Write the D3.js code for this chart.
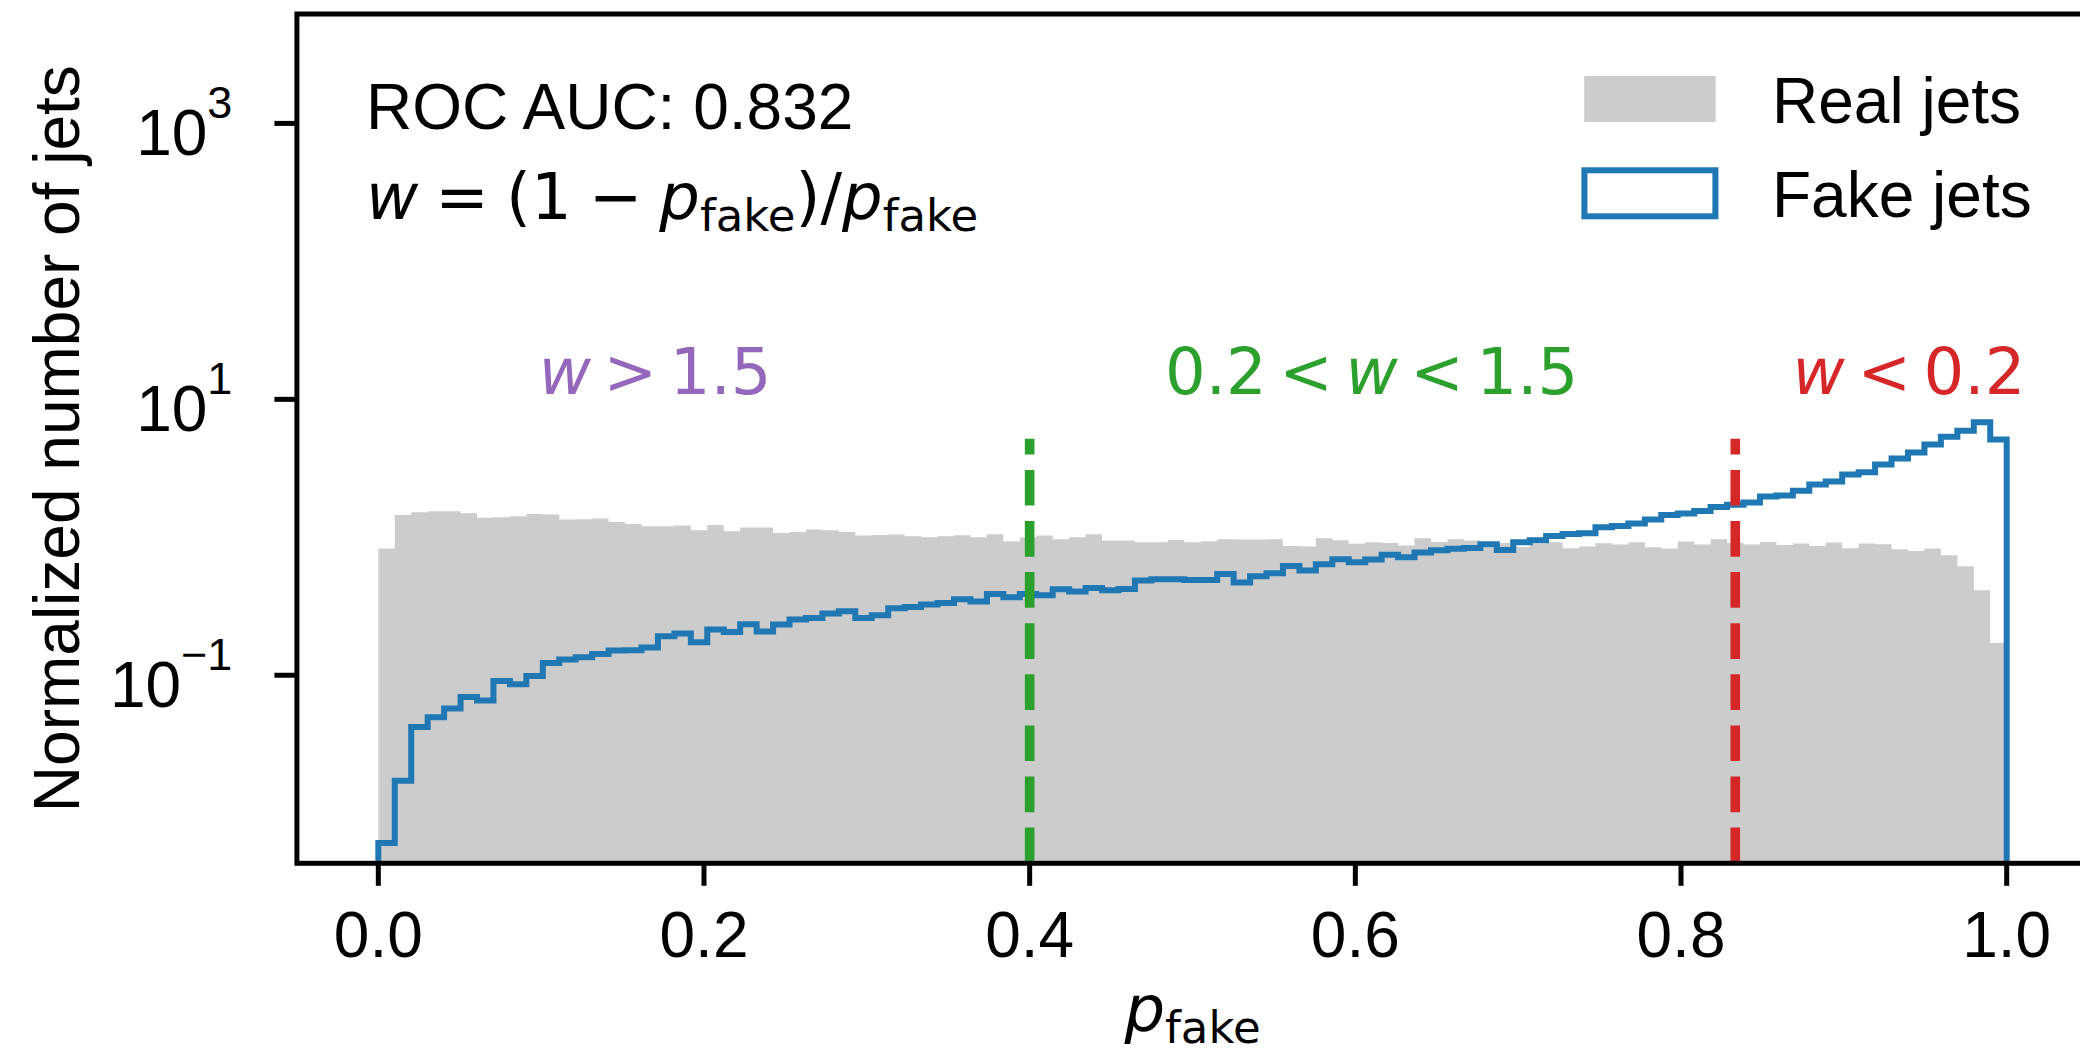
<!DOCTYPE html>
<html>
<head>
<meta charset="utf-8">
<script src="https://cdn.jsdelivr.net/npm/d3@7"></script>
<style>
  html, body { margin: 0; padding: 0; background: #ffffff; }
  svg { display: block; }
</style>
</head>
<body>
<svg id="chart" width="2080" height="1057"></svg>
<script>
// Normalized classifier-output histograms: 99 equal-width bins over p_fake in [0, 1]
const binCount = 99;

const realJets = [
  0.829, 1.453, 1.521, 1.546, 1.546, 1.496, 1.383, 1.399, 1.422, 1.478,
  1.464, 1.346, 1.353, 1.369, 1.293, 1.251, 1.204, 1.204, 1.218, 1.126,
  1.230, 1.107, 1.178, 1.178, 1.076, 1.094, 1.139, 1.126, 1.094, 1.031,
  1.041, 1.048, 1.019, 1.002, 1.019, 1.036, 1.002, 1.053, 0.937, 0.997,
  1.031, 0.969, 1.002, 1.053, 0.948, 0.948, 0.922, 0.922, 0.957, 0.922,
  0.937, 0.969, 0.964, 0.964, 0.969, 0.866, 0.858, 0.985, 0.953, 0.896,
  0.922, 0.911, 0.872, 0.985, 0.926, 0.969, 0.948, 0.848, 0.911, 0.852,
  0.902, 0.922, 0.834, 0.858, 0.906, 0.887, 0.922, 0.848, 0.829, 0.932,
  0.887, 0.969, 0.911, 0.887, 0.926, 0.881, 0.902, 0.866, 0.917, 0.834,
  0.902, 0.891, 0.820, 0.797, 0.829, 0.742, 0.617, 0.414, 0.171
];

const fakeJets = [
  0.00608, 0.0172, 0.0422, 0.0496, 0.0573, 0.0696, 0.0655, 0.0909, 0.0860, 0.0988,
  0.1228, 0.1300, 0.1351, 0.1427, 0.1511, 0.1518, 0.1588, 0.1918, 0.2006, 0.1735,
  0.2145, 0.2061, 0.2343, 0.2075, 0.2332, 0.2535, 0.2604, 0.2802, 0.2912, 0.2604,
  0.2724, 0.3061, 0.3128, 0.3256, 0.3345, 0.3557, 0.3423, 0.3886, 0.3677, 0.3886,
  0.3802, 0.4204, 0.4046, 0.4297, 0.4135, 0.4226, 0.4861, 0.4968, 0.4968, 0.4910,
  0.4910, 0.5428, 0.4701, 0.5224, 0.5492, 0.6203, 0.5744, 0.6381, 0.6939, 0.6600,
  0.6904, 0.7457, 0.7176, 0.7762, 0.8066, 0.8243, 0.8381, 0.8913, 0.8105, 0.9216,
  0.9528, 1.0237, 1.0585, 1.0708, 1.1837, 1.2098, 1.2592, 1.3459, 1.4534, 1.4878,
  1.5540, 1.6614, 1.7179, 1.7881, 1.9766, 2.0097, 2.1706, 2.4155, 2.5393, 2.8543,
  2.9661, 3.3723, 3.7276, 4.1201, 4.7098, 5.3469, 5.9100, 6.8329, 5.1193
];

const xTicks = [0.0, 0.2, 0.4, 0.6, 0.8, 1.0];
const xTickLabels = ["0.0", "0.2", "0.4", "0.6", "0.8", "1.0"];
const yTicks = [0.1, 10, 1000];
const yTickExponents = ["\u22121", "1", "3"];

// Weight cuts: w = 1.5 -> p_fake = 0.4, w = 0.2 -> p_fake = 1/1.2
const cutPositions = [0.4, 1 / 1.2];
const cutColors = ["#2ca02c", "#d62728"];

const legendLabels = ["Real jets", "Fake jets"];

// ---------------------------------------------------------------------------
const C = {
  grey: "#cccccc",
  blue: "#1f77b4",
  purple: "#9467bd",
  green: "#2ca02c",
  red: "#d62728"
};
const SANS = "'Liberation Sans', Arial, Helvetica, sans-serif";
const MATH = "'DejaVu Sans', sans-serif";
const FS = 64;          // 10 pt at the figure resolution
const SUB = 45;         // script size
const SPINE_W = 5;
const TICK_LEN = 22.5;

const frame = { left: 296.9, top: 14, right: 2088.1, bottom: 863.3 };

const svg = d3.select("#chart");

const x = d3.scaleLinear().domain([-0.05, 1.05]).range([frame.left, frame.right]);
const y = d3.scaleLog()
  .domain([Math.pow(10, -2.363), Math.pow(10, 3.793)])
  .range([frame.bottom, frame.top]);

const edges = d3.range(binCount + 1).map(i => i / binCount);

svg.append("defs").append("clipPath").attr("id", "plot-clip")
  .append("rect")
  .attr("x", frame.left).attr("y", frame.top)
  .attr("width", frame.right - frame.left)
  .attr("height", frame.bottom - frame.top);

const plot = svg.append("g").attr("clip-path", "url(#plot-clip)");

// step outline of a histogram, from the baseline up and back down
function stepPath(values, close) {
  const p = d3.path();
  p.moveTo(x(edges[0]), frame.bottom);
  values.forEach((v, i) => {
    p.lineTo(x(edges[i]), y(v));
    p.lineTo(x(edges[i + 1]), y(v));
  });
  p.lineTo(x(edges[binCount]), frame.bottom);
  if (close) p.closePath();
  return p.toString();
}

// Real jets: filled histogram
plot.append("path")
  .attr("d", stepPath(realJets, true))
  .attr("fill", C.grey)
  .attr("stroke", "none");

// Fake jets: step histogram
plot.append("path")
  .attr("d", stepPath(fakeJets, false))
  .attr("fill", "none")
  .attr("stroke", C.blue)
  .attr("stroke-width", 6)
  .attr("stroke-linejoin", "miter");

// Cut lines, from the axis floor up to half the axes height
const midY = frame.bottom - 0.5 * (frame.bottom - frame.top);
svg.append("g").selectAll("line")
  .data(cutPositions)
  .join("line")
  .attr("x1", d => x(d)).attr("x2", d => x(d))
  .attr("y1", frame.bottom).attr("y2", midY)
  .attr("stroke", (d, i) => cutColors[i])
  .attr("stroke-width", 9.6)
  .attr("stroke-dasharray", "35.7,15.4");

// Axes frame
svg.append("rect")
  .attr("x", frame.left).attr("y", frame.top)
  .attr("width", frame.right - frame.left)
  .attr("height", frame.bottom - frame.top)
  .attr("fill", "none")
  .attr("stroke", "#000")
  .attr("stroke-width", SPINE_W);

// x ticks
const gx = svg.append("g");
gx.selectAll("line")
  .data(xTicks)
  .join("line")
  .attr("x1", d => x(d)).attr("x2", d => x(d))
  .attr("y1", frame.bottom).attr("y2", frame.bottom + TICK_LEN)
  .attr("stroke", "#000").attr("stroke-width", SPINE_W);
gx.selectAll("text")
  .data(xTicks)
  .join("text")
  .attr("x", d => x(d))
  .attr("y", 957)
  .attr("text-anchor", "middle")
  .attr("font-family", SANS)
  .attr("font-size", FS)
  .text((d, i) => xTickLabels[i]);

// y ticks (log, labelled as powers of ten)
const gy = svg.append("g");
gy.selectAll("line")
  .data(yTicks)
  .join("line")
  .attr("x1", frame.left - TICK_LEN).attr("x2", frame.left)
  .attr("y1", d => y(d)).attr("y2", d => y(d))
  .attr("stroke", "#000").attr("stroke-width", SPINE_W);
yTicks.forEach((t, i) => {
  const txt = gy.append("text")
    .attr("x", frame.left - TICK_LEN - 42)
    .attr("y", y(t) + 32)
    .attr("text-anchor", "end")
    .attr("font-family", SANS)
    .attr("font-size", FS);
  txt.append("tspan").text("10");
  txt.append("tspan")
    .attr("dy", -37)
    .attr("font-size", SUB)
    .text(yTickExponents[i]);
});

// axis labels
const xl = svg.append("text")
  .attr("x", (frame.left + frame.right) / 2)
  .attr("y", 1031)
  .attr("text-anchor", "middle")
  .attr("font-family", MATH)
  .attr("font-size", FS);
xl.append("tspan").attr("font-style", "italic").text("p");
xl.append("tspan").attr("dy", 12).attr("font-size", SUB).text("fake");

svg.append("text")
  .attr("transform", `translate(79,${(frame.top + frame.bottom) / 2}) rotate(-90)`)
  .attr("text-anchor", "middle")
  .attr("font-family", SANS)
  .attr("font-size", FS)
  .text("Normalized number of jets");

// annotation block
svg.append("text")
  .attr("x", 366).attr("y", 128.5)
  .attr("font-family", SANS)
  .attr("font-size", FS)
  .text("ROC AUC: 0.832");

const f = svg.append("text")
  .attr("x", 366).attr("y", 218.5)
  .attr("font-family", MATH)
  .attr("font-size", FS);
const gap = 17;
f.append("tspan").attr("font-style", "italic").text("w");
f.append("tspan").attr("dx", gap).text("=");
f.append("tspan").attr("dx", gap).text("(1");
f.append("tspan").attr("dx", gap).text("\u2212");
f.append("tspan").attr("dx", gap).attr("font-style", "italic").text("p");
f.append("tspan").attr("dy", 12).attr("font-size", SUB).text("fake");
f.append("tspan").attr("dy", -12).text(")/");
f.append("tspan").attr("font-style", "italic").text("p");
f.append("tspan").attr("dy", 12).attr("font-size", SUB).text("fake");

// region labels, centred at fixed fractions of the axes width
const regions = [
  { frac: 0.2, color: C.purple, parts: [["w", true], [">", false], ["1.5", false]] },
  { frac: 0.6, color: C.green, parts: [["0.2", false], ["<", false], ["w", true], ["<", false], ["1.5", false]] },
  { frac: 0.9, color: C.red, parts: [["w", true], ["<", false], ["0.2", false]] }
];
regions.forEach(r => {
  const t = svg.append("text")
    .attr("x", frame.left + r.frac * (frame.right - frame.left))
    .attr("y", 394)
    .attr("text-anchor", "middle")
    .attr("font-family", MATH)
    .attr("font-size", FS)
    .attr("fill", r.color);
  r.parts.forEach((p, i) => {
    const s = t.append("tspan").text(p[0]);
    if (i > 0) s.attr("dx", 12.5);
    if (p[1]) s.attr("font-style", "italic");
  });
});

// legend
const lg = svg.append("g");
lg.append("rect")
  .attr("x", 1584.2).attr("y", 76)
  .attr("width", 131.5).attr("height", 46)
  .attr("fill", C.grey);
lg.append("rect")
  .attr("x", 1584.4).attr("y", 170.3)
  .attr("width", 131).attr("height", 46)
  .attr("fill", "none")
  .attr("stroke", C.blue)
  .attr("stroke-width", 6);
lg.selectAll("text")
  .data(legendLabels)
  .join("text")
  .attr("x", 1772)
  .attr("y", (d, i) => [122.5, 216.5][i])
  .attr("font-family", SANS)
  .attr("font-size", FS)
  .text(d => d);
</script>
</body>
</html>
